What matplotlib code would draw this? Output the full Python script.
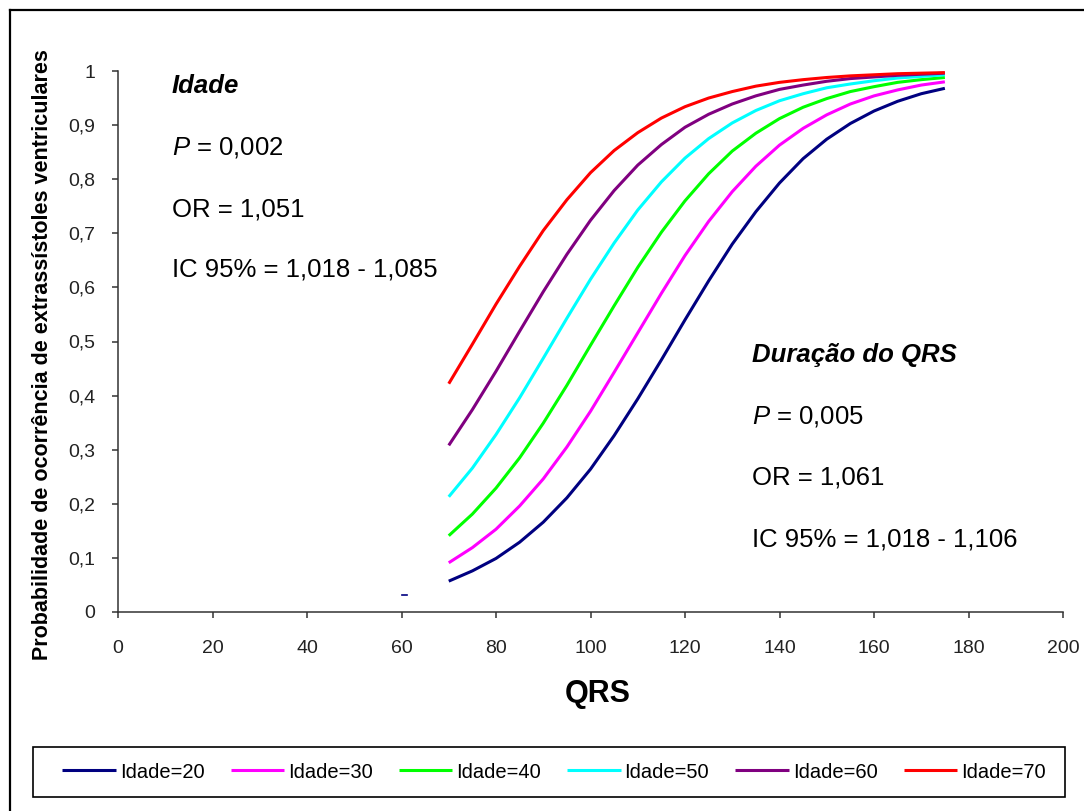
import matplotlib
matplotlib.use("Agg")
import matplotlib.pyplot as plt
from matplotlib.patches import Rectangle
from matplotlib.lines import Line2D

plt.rcParams['font.family'] = ['Liberation Sans', 'DejaVu Sans']
plt.rcParams['mathtext.fontset'] = 'custom'
plt.rcParams['mathtext.it'] = 'Liberation Sans:italic'
plt.rcParams['mathtext.rm'] = 'Liberation Sans'

# QRS duration (ms) and predicted probability for each age
qrs = [70, 75, 80, 85, 90, 95, 100, 105, 110, 115, 120,
       125, 130, 135, 140, 145, 150, 155, 160, 165, 170, 175]

idade20 = [0.057, 0.076, 0.099, 0.129, 0.166, 0.211, 0.264, 0.326, 0.394, 0.466, 0.540,
           0.612, 0.680, 0.740, 0.793, 0.838, 0.874, 0.903, 0.926, 0.944, 0.958, 0.968]
idade30 = [0.091, 0.119, 0.153, 0.196, 0.246, 0.305, 0.371, 0.443, 0.516, 0.589, 0.659,
           0.722, 0.777, 0.824, 0.863, 0.894, 0.919, 0.939, 0.954, 0.965, 0.974, 0.980]
idade40 = [0.141, 0.181, 0.229, 0.285, 0.349, 0.419, 0.493, 0.566, 0.637, 0.702, 0.760,
           0.810, 0.852, 0.885, 0.912, 0.933, 0.949, 0.962, 0.971, 0.979, 0.984, 0.988]
idade50 = [0.213, 0.266, 0.328, 0.396, 0.469, 0.543, 0.615, 0.682, 0.743, 0.795, 0.839,
           0.875, 0.904, 0.927, 0.945, 0.958, 0.969, 0.976, 0.982, 0.987, 0.990, 0.993]
idade60 = [0.308, 0.374, 0.445, 0.519, 0.592, 0.661, 0.724, 0.779, 0.826, 0.864, 0.896,
           0.920, 0.939, 0.954, 0.966, 0.974, 0.981, 0.986, 0.989, 0.992, 0.994, 0.996]
idade70 = [0.422, 0.495, 0.569, 0.639, 0.705, 0.762, 0.812, 0.853, 0.886, 0.913, 0.934,
           0.950, 0.962, 0.972, 0.979, 0.984, 0.988, 0.991, 0.993, 0.995, 0.996, 0.997]

series = [idade20, idade30, idade40, idade50, idade60, idade70]
labels = ['Idade=20', 'Idade=30', 'Idade=40', 'Idade=50', 'Idade=60', 'Idade=70']
colors = ['#000080', '#FF00FF', '#00FF00', '#00FFFF', '#800080', '#FF0000']

# small stray mark near QRS=60
stray_x = [60, 61.2]
stray_y = [0.031, 0.031]

xticks = [0, 20, 40, 60, 80, 100, 120, 140, 160, 180, 200]
yticks = [0, 0.1, 0.2, 0.3, 0.4, 0.5, 0.6, 0.7, 0.8, 0.9, 1]
ytick_labels = ['0', '0,1', '0,2', '0,3', '0,4', '0,5', '0,6', '0,7', '0,8', '0,9', '1']

W, H = 1084, 811
fig = plt.figure(figsize=(W / 100, H / 100), dpi=100)
ax = fig.add_axes([118 / W, 1 - 612 / H, (1063 - 118) / W, (612 - 71) / H])

for y, lab, c in zip(series, labels, colors):
    ax.plot(qrs, y, color=c, lw=2.2, label=lab, solid_capstyle='butt')
ax.plot(stray_x, stray_y, color='#000080', lw=1.2)

ax.set_xlim(0, 200)
ax.set_ylim(0, 1)
ax.set_xticks(xticks)
ax.set_yticks(yticks)
ax.set_yticklabels(ytick_labels)
for s in ['top', 'right']:
    ax.spines[s].set_visible(False)
for s in ['left', 'bottom']:
    ax.spines[s].set_color('#333333')
    ax.spines[s].set_linewidth(1.1)
ax.tick_params(axis='both', direction='out', length=4.5, width=1.1,
               color='#333333', labelcolor='#222222', labelsize=14)
ax.tick_params(axis='y', pad=12)
ax.tick_params(axis='x', pad=16)

def fx(px):
    return px / W

def fy(py):
    return 1 - py / H

fig.text(fx(43), fy(355), 'Probabilidade de ocorrência de extrassístoles ventriculares',
         rotation=90, ha='center', va='center', fontsize=15.5, fontweight='bold')
fig.text(fx(598), fy(702), 'QRS', ha='center', va='baseline', fontsize=22, fontweight='bold')

# annotation blocks
fs = 18.5
fig.text(fx(172), fy(93), 'Idade', fontsize=fs, fontweight='bold', style='italic', va='baseline')
fig.text(fx(172), fy(155), r'$P$ = 0,002', fontsize=fs, va='baseline')
fig.text(fx(172), fy(216), 'OR = 1,051', fontsize=fs, va='baseline')
fig.text(fx(172), fy(277), 'IC 95% = 1,018 - 1,085', fontsize=fs, va='baseline')

fig.text(fx(752), fy(362), 'Duração do QRS', fontsize=fs, fontweight='bold', style='italic', va='baseline')
fig.text(fx(752), fy(423), r'$P$ = 0,005', fontsize=fs, va='baseline')
fig.text(fx(752), fy(485), 'OR = 1,061', fontsize=fs, va='baseline')
fig.text(fx(752), fy(546), 'IC 95% = 1,018 - 1,106', fontsize=fs, va='baseline')

# legend (frame drawn separately)
handles, labs = ax.get_legend_handles_labels()
fig.legend(handles, labs, loc='center', bbox_to_anchor=(fx(554), fy(772)),
           ncol=6, frameon=False, fontsize=14.5, handlelength=2.65,
           handletextpad=0.2, columnspacing=1.3)
fig.patches.append(Rectangle((fx(33), fy(797)), fx(1065) - fx(33), fy(747) - fy(797),
                             transform=fig.transFigure, fill=False, edgecolor='black', lw=1.2))

# outer border (top and left visible)
fig.lines.append(Line2D([fx(10), fx(10)], [fy(10), -0.05], transform=fig.transFigure,
                        color='black', lw=1.6))
fig.lines.append(Line2D([fx(10), 1.05], [fy(10), fy(10)], transform=fig.transFigure,
                        color='black', lw=1.6))

fig.savefig('out.png', dpi=100)
